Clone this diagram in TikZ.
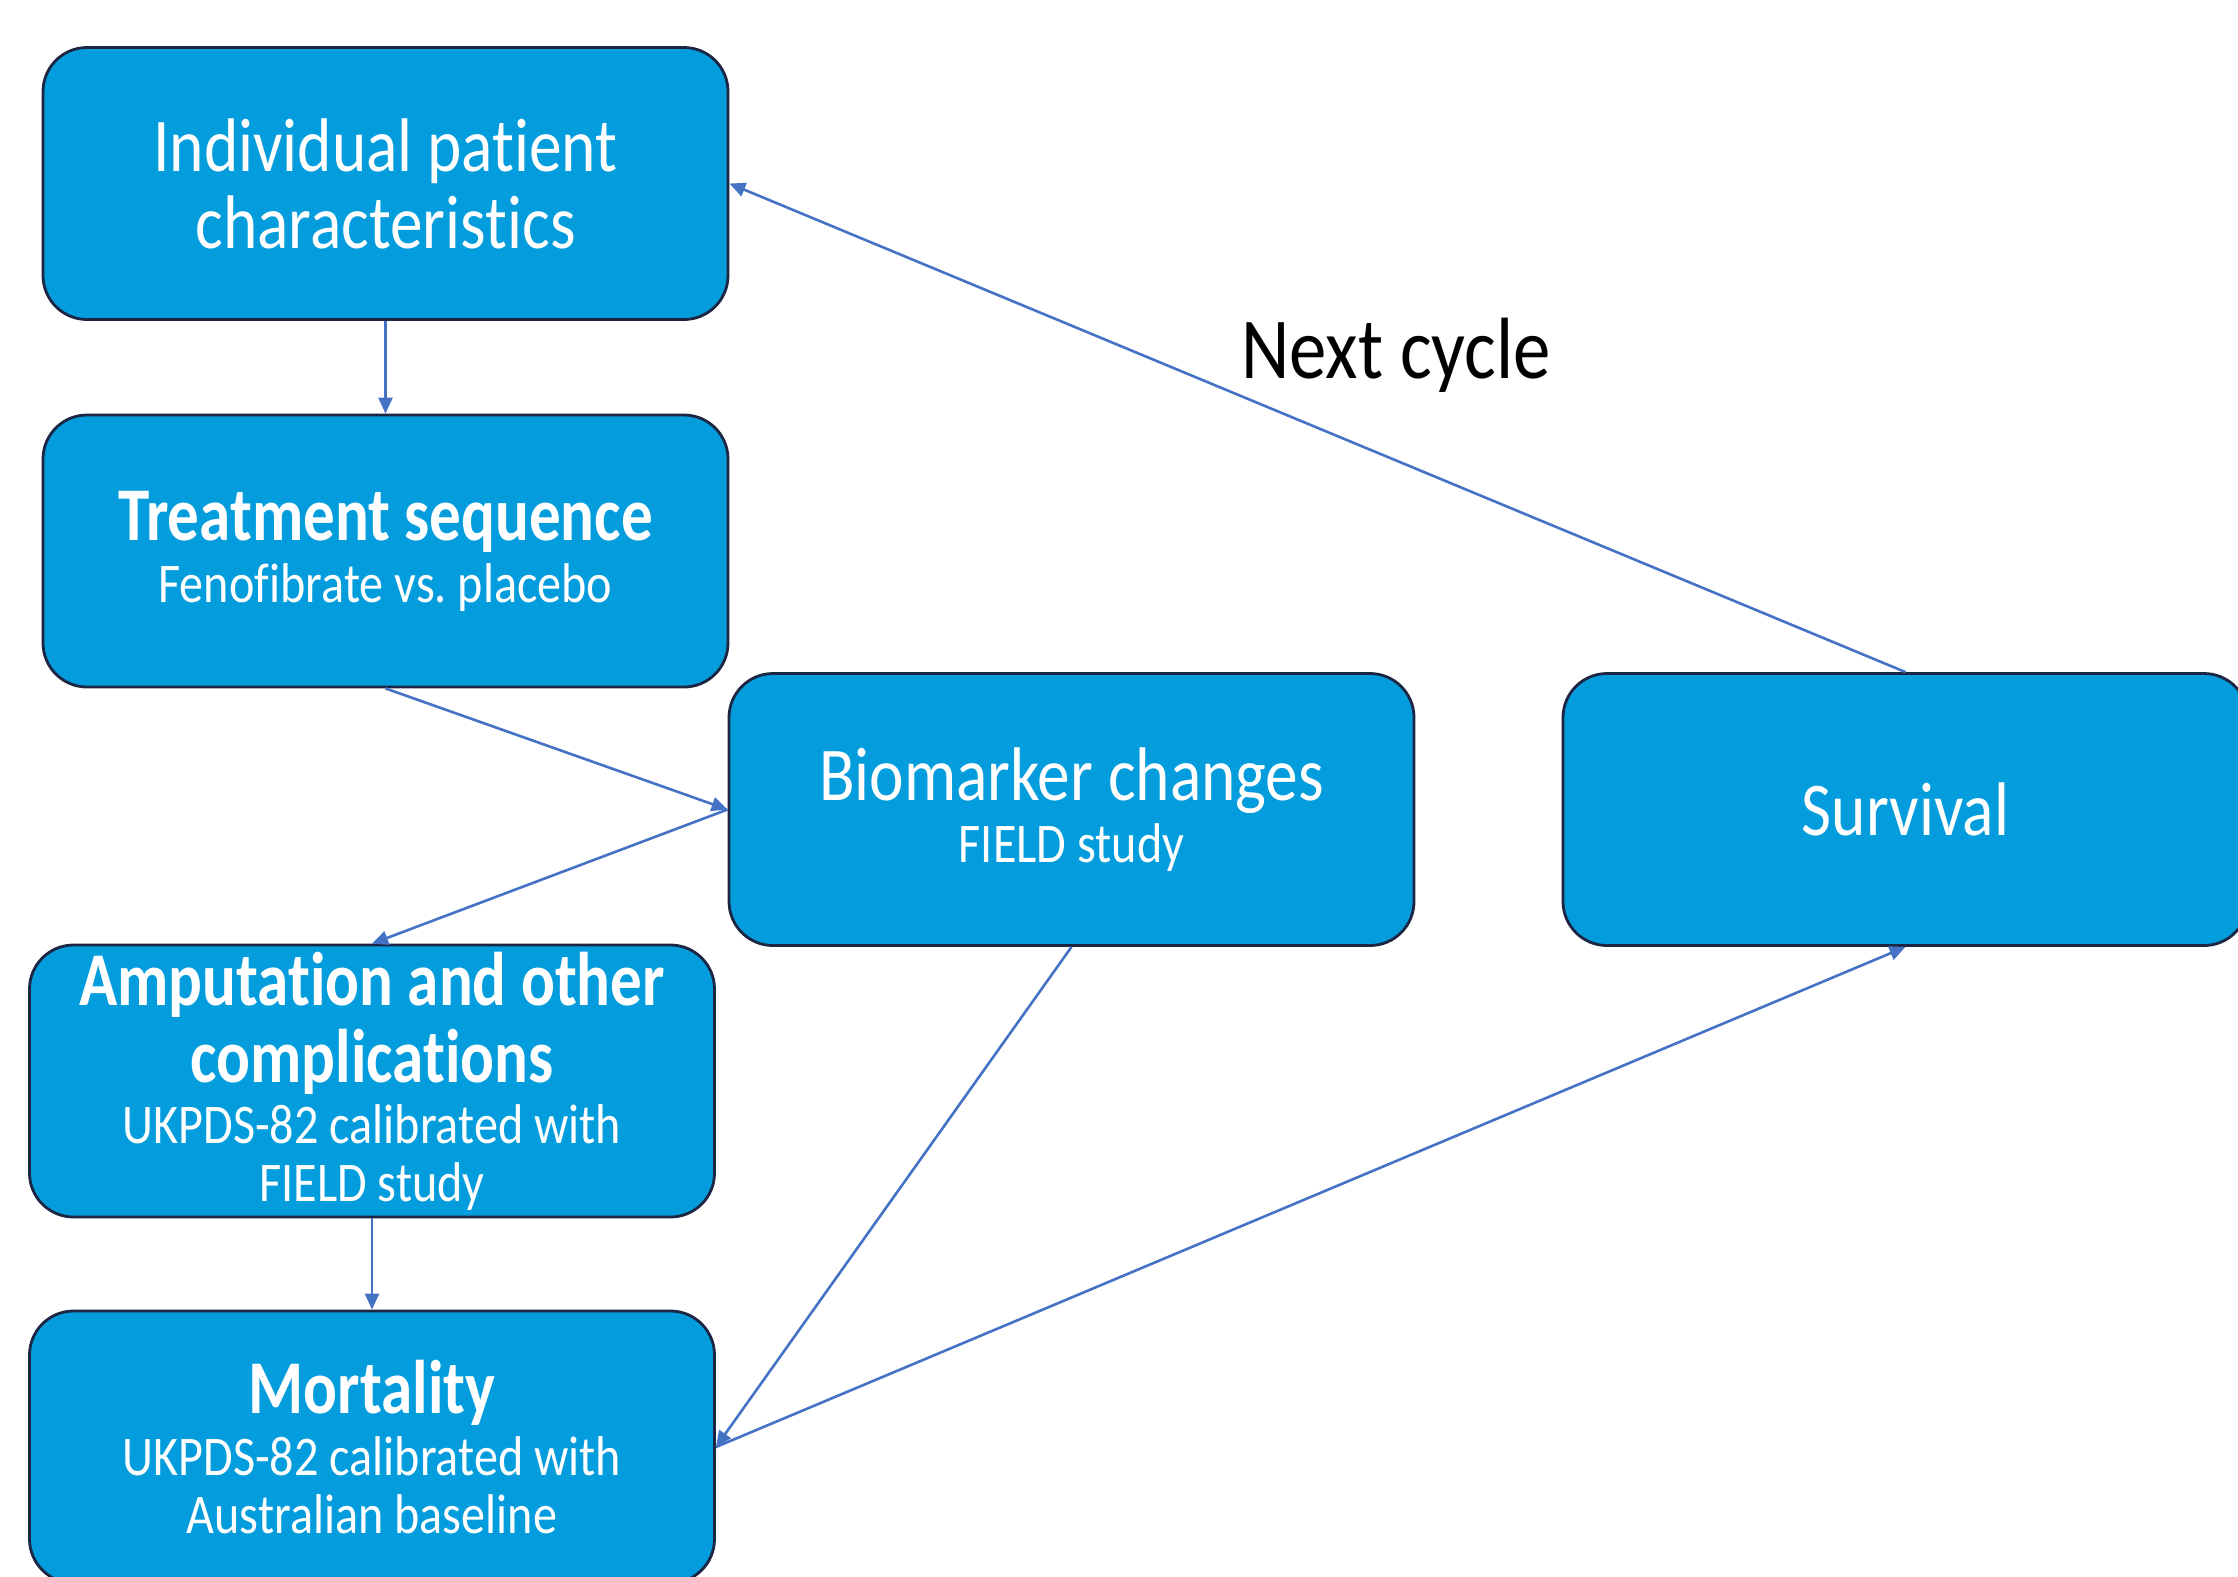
\documentclass[tikz,border=0pt]{standalone}
\usepackage{fontspec}
\setmainfont{Carlito}[Ligatures=NoCommon, FakeStretch=0.86, BoldFeatures={FakeStretch=0.83}]
\frenchspacing
\usetikzlibrary{arrows.meta}

\definecolor{boxblue}{RGB}{3,157,222}
\definecolor{boxline}{RGB}{28,38,66}
\definecolor{arrowblue}{RGB}{68,114,196}

\newcommand{\headfont}{\fontsize{38}{38.5}\selectfont}
\newcommand{\notefont}{\fontsize{28}{28.5}\selectfont}

\begin{document}
\begin{tikzpicture}[x=0.5pt, y=-0.5pt,
		stage/.style={draw=boxline, line width=1.4pt, fill=boxblue, rounded corners=22pt,
			minimum width=342.5pt, minimum height=136pt, inner sep=0pt,
			text=white, align=center, font=\headfont},
		flow/.style={draw=arrowblue, line width=1.3pt, -{Triangle[length=8pt, width=7pt]}}]
		\useasboundingbox (0, 0) rectangle (2238, 1576);
		\node[stage] (ipc) at (385.5, 183.5) {Individual patient\\characteristics};
		\node[stage] (treat) at (385.5, 551) {\textbf{Treatment sequence}\\[-7.5pt]{\notefont Fenofibrate vs. placebo}};
		\node[stage] (bio) at (1071.5, 809.5) {Biomarker changes\\[-7.5pt]{\notefont FIELD study}};
		\node[stage] (surv) at (1905.5, 809.5) {Survival};
		\node[stage] (amp) at (372, 1081) {\textbf{Amputation and other}\\\textbf{complications}\\[-8pt]{\notefont UKPDS-82 calibrated with}\\[-9.5pt]{\notefont FIELD study}};
		\node[stage] (mort) at (372, 1447) {\textbf{Mortality}\\[-7.5pt]{\notefont UKPDS-82 calibrated with}\\[-9.5pt]{\notefont Australian baseline}};
		\node[font=\fontsize{43.5}{46}\selectfont] (next) at (1396, 355) {Next cycle};
		\foreach \a/\b in {ipc.south/treat.north, treat.south/bio.west, bio.west/amp.north, amp.south/mort.north, bio.south/mort.east, mort.east/surv.south, surv.north/ipc.east}
			\draw[flow] (\a) -- (\b);
	\end{tikzpicture}
\end{document}
